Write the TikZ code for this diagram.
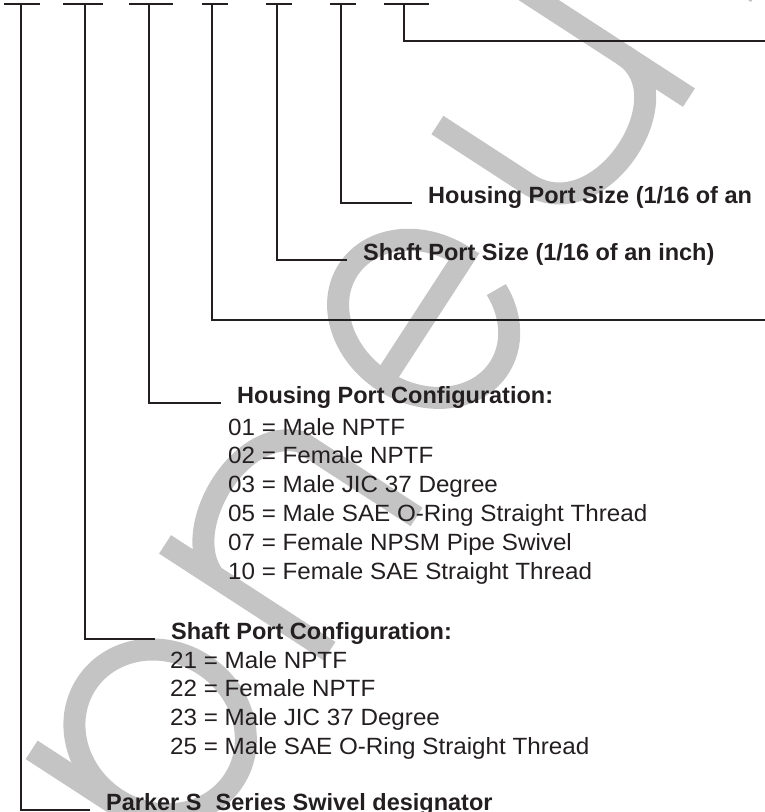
\documentclass[tikz,border=0pt]{standalone}
\usepackage{fontspec}
\setmainfont{Liberation Sans}
\newfontfamily\itemfont[FakeStretch=1.03]{Liberation Sans}
\usetikzlibrary{positioning}

\definecolor{ink}{RGB}{35,31,32}
\definecolor{wmgray}{RGB}{196,196,196}
\newcommand{\txtsize}{\fontsize{23.5}{28}\selectfont}

\begin{document}
\begin{tikzpicture}[x=1pt, y=-1pt,
    every node/.style={text=ink},
    wire/.style={draw=ink, line width=2.2pt},
    lbl/.style={anchor=base west, inner sep=0pt, inner xsep=16pt, font=\txtsize\bfseries},
    item/.style={anchor=base west, inner sep=0pt, font=\itemfont\txtsize}
  ]
  \useasboundingbox (0,0) rectangle (765,812);
  \clip (0,0) rectangle (765,812);

  % watermark letters behind everything
  \begin{scope}[shift={(427,321)}, rotate=57, y=1pt, line width=22pt, draw=wmgray]
    \draw (-490,0) ellipse [x radius=80, y radius=88];
    \draw (-575,98) -- (-575,-180);
    \draw (-330,-98) -- (-330,98);
    \draw (-330,40) .. controls (-310,95) and (-190,100) .. (-170,40) -- (-170,-98);
    \draw (-74,4) -- (74,4) arc[start angle=0, end angle=330, x radius=74, y radius=90];
    \draw (170,98) -- (170,-10) .. controls (170,-95) and (330,-95) .. (330,-20);
    \draw (330,98) -- (330,-98);
    \draw (455,-98) -- (455,98);
  \end{scope}

  % code placeholders
  \foreach \a/\b/\s [count=\i] in {4/40/21, 63/103/85, 129/173/149, 202/228/212,
      266/292/277, 330/356/341, 384/429/404} {
    \draw[wire] (\a,4) -- (\b,4);
    \coordinate (s\i) at (\s,4);
  }

  % labels
  \node[lbl] (hps) at (412,203) {Housing Port Size (1/16 of an};
  \node[lbl] (sps) at (347,260) {Shaft Port Size (1/16 of an inch)};
  \node[lbl] (hpc) at (221,403) {Housing Port Configuration:};
  \node[lbl] (spc) at (155,639) {Shaft Port Configuration:};
  \node[lbl] (psd) at (90,810) {Parker S\hspace{0.6em}Series Swivel designator};
  \coordinate (r7) at (765,41);
  \coordinate (r4) at (765,320);

  % housing port codes
  \foreach \c/\t [count=\i] in {01/Male NPTF, 02/Female NPTF, 03/Male JIC 37 Degree,
      05/Male SAE O-Ring Straight Thread, 07/Female NPSM Pipe Swivel,
      10/Female SAE Straight Thread}
    \node[item] (h\i) at (228,406.2+28.8*\i) {\c{} = \t};

  % shaft port codes
  \foreach \c/\t [count=\i] in {21/Male NPTF, 22/Female NPTF, 23/Male JIC 37 Degree,
      25/Male SAE O-Ring Straight Thread}
    \node[item] (k\i) at (170,639.2+28.8*\i) {\c{} = \t};

  % leaders
  \draw[wire] (s1) |- (psd.base west);
  \draw[wire] (s2) |- (spc.base west);
  \draw[wire] (s3) |- (hpc.base west);
  \draw[wire] (s4) |- (r4);
  \draw[wire] (s5) |- (sps.base west);
  \draw[wire] (s6) |- (hps.base west);
  \draw[wire] (s7) |- (r7);
\end{tikzpicture}
\end{document}
